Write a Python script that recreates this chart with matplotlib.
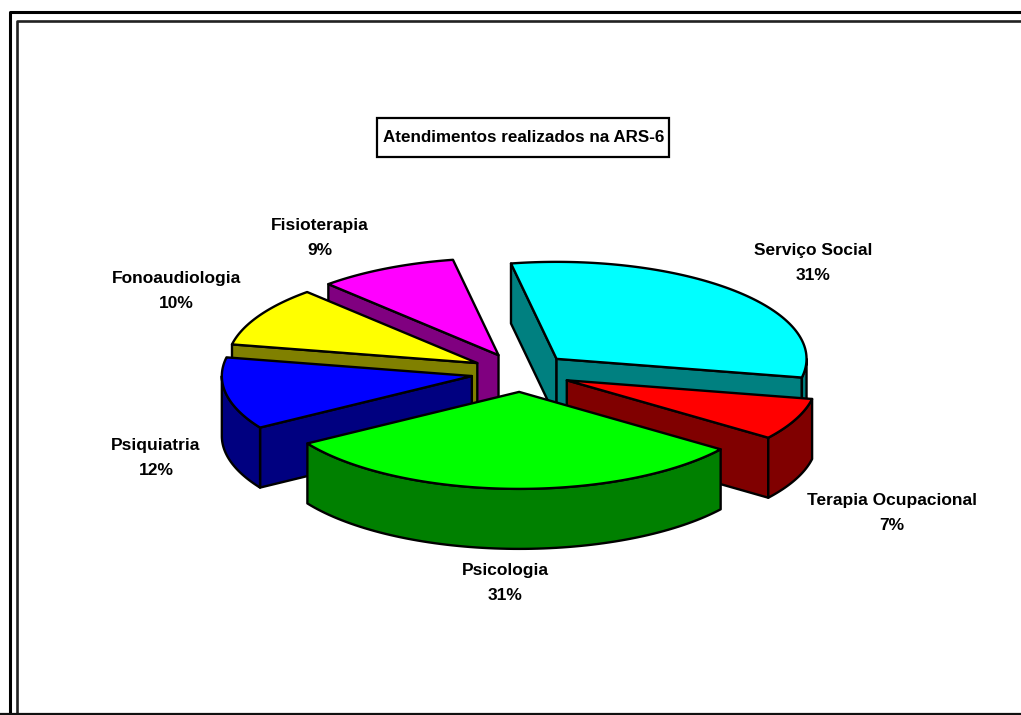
import numpy as np
import matplotlib
matplotlib.use('Agg')
import matplotlib.pyplot as plt
from matplotlib.patches import Polygon, Rectangle

plt.rcParams['font.family'] = ['Liberation Sans', 'DejaVu Sans']

# share of attendances per service, clockwise
categories = ['Serviço Social', 'Terapia Ocupacional', 'Psicologia',
              'Psiquiatria', 'Fonoaudiologia', 'Fisioterapia']
percentages = [31, 7, 31, 12, 10, 9]
top_colors = ['#00FFFF', '#FF0000', '#00FF00', '#0000FF', '#FFFF00', '#FF00FF']
side_colors = ['#008080', '#800000', '#008000', '#000080', '#808000', '#800080']
label_pos = [(813, 263), (892, 513), (505, 583), (156, 458), (176, 291), (320, 238)]

# pie geometry, in pixels
cx, cy = 521, 372.5
rx, ry = 250, 97
depth = 60
explode = 50
start_angle = -100.5

fig = plt.figure(figsize=(10.21, 7.15), dpi=100)
ax = fig.add_axes([0, 0, 1, 1])
ax.set_xlim(0, 1021)
ax.set_ylim(715, 0)
ax.axis('off')

# outer and inner frames, both run off the right and bottom edges
ax.plot([9.5, 9.5, 1021], [715, 12, 12], color='black', lw=2.2, zorder=1)
ax.plot([17, 17, 1021], [715, 21, 21], color='#222222', lw=1.9, zorder=1)
ax.plot([0, 1021], [714, 714], color='#111111', lw=1.6, zorder=1)


def ell(t, ox, oy, shift=0):
    return np.column_stack([ox + rx * np.cos(t), oy + ry * np.sin(t) + shift])


edges = np.radians(start_angle + np.cumsum([0] + percentages) * 3.6)
slices = []
for i in range(len(percentages)):
    a, b = edges[i], edges[i + 1]
    mid = (a + b) / 2
    ox = cx + explode * np.cos(mid)
    oy = cy + explode * ry / rx * np.sin(mid)
    slices.append((oy, i, a, b, ox))

# back slices first, so the nearer ones cover them
for order, (oy, i, a, b, ox) in enumerate(sorted(slices, key=lambda s: s[0])):
    z = 2 + order
    style = dict(ec='black', lw=1.7, joinstyle='round', zorder=z)
    arc = ell(np.linspace(a, b, 120), ox, oy)
    apex = np.array([ox, oy])

    # cut faces, only those turned towards the viewer
    for p, visible in ((arc[0], arc[0][0] < ox), (arc[-1], arc[-1][0] > ox)):
        if visible:
            quad = [apex, p, p + [0, depth], apex + [0, depth]]
            ax.add_patch(Polygon(quad, fc=side_colors[i], **style))

    # outer wall along the lower half of the rim
    for k in (0, 1):
        lo = max(a, 2 * k * np.pi)
        hi = min(b, np.pi + 2 * k * np.pi)
        if lo < hi:
            rim = ell(np.linspace(lo, hi, 80), ox, oy)
            wall = np.vstack([rim, (rim + [0, depth])[::-1]])
            ax.add_patch(Polygon(wall, fc=side_colors[i], **style))

    ax.add_patch(Polygon(np.vstack([apex, arc]), fc=top_colors[i], **style))

for name, pct, (x, y) in zip(categories, percentages, label_pos):
    ax.text(x, y, f'{name}\n{pct}%', ha='center', va='center', fontsize=12.5,
            fontweight='bold', linespacing=1.9, zorder=20)

# title box
ax.add_patch(Rectangle((377, 118), 292, 39, fc='white', ec='black', lw=1.6, zorder=20))
ax.text(524, 142, 'Atendimentos realizados na ARS-6', ha='center', va='baseline',
        fontsize=12.25, fontweight='bold', zorder=21)

fig.savefig('out.png', dpi=100)
